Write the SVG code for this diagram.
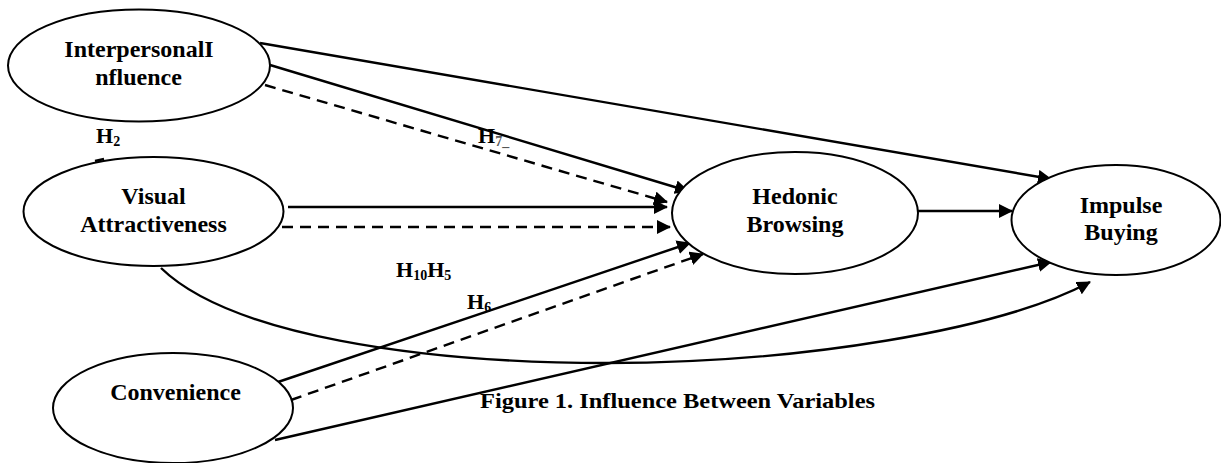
<svg xmlns="http://www.w3.org/2000/svg" width="1221" height="463" viewBox="0 0 1221 463">
  <style>
    .node { fill: #ffffff; stroke: #000000; stroke-width: 2; }
    .label { font-family: "Liberation Serif", "Times New Roman", serif; font-weight: bold; font-size: 24px; fill: #000000; text-anchor: middle; }
    .hyp { font-family: "Liberation Serif", "Times New Roman", serif; font-weight: bold; font-size: 22px; fill: #000000; }
    .sub { font-size: 14px; }
    .caption { font-family: "Liberation Serif", "Times New Roman", serif; font-weight: bold; font-size: 21px; fill: #000000; }
    .edge { fill: none; stroke: #000000; stroke-width: 2.4; marker-end: url(#arrow); }
    .dashed { stroke-dasharray: 11 7; }
  </style>
  <defs>
    <marker id="arrow" markerUnits="userSpaceOnUse" markerWidth="14" markerHeight="14" viewBox="0 0 14 14" refX="13" refY="7" orient="auto">
      <path d="M0,0 L14,7 L0,14 Z" fill="#000000"/>
    </marker>
  </defs>

  <rect width="1221" height="463" fill="#ffffff"/>

  <!-- connectors -->
  <g id="connectors">
    <!-- Interpersonal Influence -> Impulse Buying -->
    <line class="edge" x1="260" y1="43" x2="1051" y2="179"/>
    <!-- Interpersonal Influence -> Hedonic Browsing -->
    <line class="edge" x1="270" y1="65" x2="688" y2="191"/>
    <line class="edge dashed" x1="265" y1="85" x2="667" y2="202"/>
    <!-- Visual Attractiveness -> Hedonic Browsing -->
    <line class="edge" x1="288" y1="207" x2="667" y2="207"/>
    <line class="edge dashed" x1="282" y1="227" x2="670" y2="227"/>
    <!-- Convenience -> Hedonic Browsing -->
    <line class="edge" x1="278" y1="382" x2="690" y2="243"/>
    <line class="edge dashed" x1="291" y1="400" x2="703" y2="254"/>
    <!-- Convenience -> Impulse Buying -->
    <line class="edge" x1="275" y1="440" x2="1051" y2="262"/>
    <!-- Visual Attractiveness -> Impulse Buying -->
    <path class="edge" d="M161,268 C230,335 420,363 607,363 C800,363 1000,330 1090,282"/>
    <!-- Hedonic Browsing -> Impulse Buying -->
    <line class="edge" x1="918" y1="211" x2="1012" y2="211"/>
    <!-- small tick on the top of Visual Attractiveness -->
    <line x1="95" y1="161" x2="104" y2="159" stroke="#000000" stroke-width="2.4"/>
  </g>

  <!-- nodes -->
  <g id="interpersonal-influence">
    <ellipse class="node" cx="139" cy="65.5" rx="131" ry="56"/>
    <text class="label" x="139" y="57">InterpersonalI</text>
    <text class="label" x="138.5" y="84.5">nfluence</text>
  </g>

  <g id="visual-attractiveness">
    <ellipse class="node" cx="153.5" cy="211.5" rx="130" ry="54.5"/>
    <text class="label" x="153.5" y="204">Visual</text>
    <text class="label" x="153.5" y="232">Attractiveness</text>
  </g>

  <g id="convenience">
    <ellipse class="node" cx="173" cy="408" rx="120" ry="55"/>
    <text class="label" x="175.5" y="400">Convenience</text>
  </g>

  <g id="hedonic-browsing">
    <ellipse class="node" cx="795" cy="213" rx="123" ry="61"/>
    <text class="label" x="795" y="204">Hedonic</text>
    <text class="label" x="795" y="232">Browsing</text>
  </g>

  <g id="impulse-buying">
    <ellipse class="node" cx="1116" cy="220" rx="104.5" ry="55"/>
    <text class="label" x="1121" y="212.5">Impulse</text>
    <text class="label" x="1121" y="240">Buying</text>
  </g>

  <!-- hypothesis labels -->
  <g id="hypotheses">
    <text class="hyp" x="96" y="143">H<tspan class="sub" dy="3">2</tspan></text>
    <text class="hyp" x="478" y="143">H<tspan class="sub" dy="3" fill="#555555">7_</tspan></text>
    <text class="hyp" x="396" y="277">H<tspan class="sub" dy="3">10</tspan><tspan dy="-3">H</tspan><tspan class="sub" dy="3">5</tspan></text>
    <text class="hyp" x="467" y="309">H<tspan class="sub" dy="3">6</tspan></text>
  </g>

  <text class="caption" x="480" y="408" textLength="395" lengthAdjust="spacingAndGlyphs">Figure 1. Influence Between Variables</text>
</svg>
